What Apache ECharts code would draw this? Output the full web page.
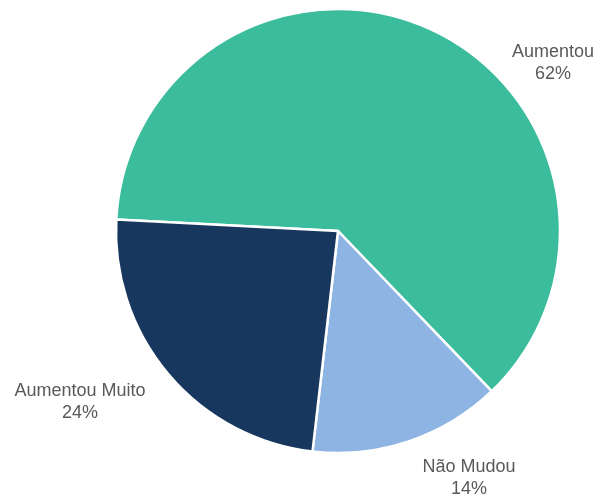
<!DOCTYPE html>
<html>
<head>
<meta charset="utf-8">
<script src="https://cdn.jsdelivr.net/npm/echarts@6/dist/echarts.min.js"></script>
<style>
  html, body { margin: 0; padding: 0; background: #ffffff; }
  #chart { width: 600px; height: 496px; }
</style>
</head>
<body>
<div id="chart"></div>
<script>
// dados do gráfico
const categories = ['Aumentou', 'Não Mudou', 'Aumentou Muito']
const values = [62, 14, 24]
const colors = ['#3BBD9D', '#8EB4E3', '#17375E']

// posição dos rótulos (centro do texto)
const labelPos = [[553, 63], [469, 478], [80, 402]]

const myChart = echarts.init(document.getElementById('chart'), null, { renderer: 'canvas' })

const option = {
  animation: false,
  series: [
    {
      type: 'pie',
      center: [338, 231],
      radius: 222,
      startAngle: 177,
      clockwise: true,
      avoidLabelOverlap: false,
      data: categories.map((name, i) => ({
        name: name,
        value: values[i],
        itemStyle: { color: colors[i] }
      })),
      itemStyle: {
        borderColor: '#ffffff',
        borderWidth: 2.5
      },
      label: {
        show: true,
        position: 'outside',
        formatter: '{b}\n{d}%',
        color: '#595959',
        fontFamily: '"Liberation Sans"',
        fontSize: 18,
        lineHeight: 22,
        align: 'center'
      },
      labelLine: { show: false },
      labelLayout: function (params) {
        const p = labelPos[params.dataIndex]
        return { x: p[0], y: p[1], align: 'center', verticalAlign: 'middle' }
      },
      emphasis: { disabled: true }
    }
  ]
}
myChart.setOption(option)
</script>
</body>
</html>
